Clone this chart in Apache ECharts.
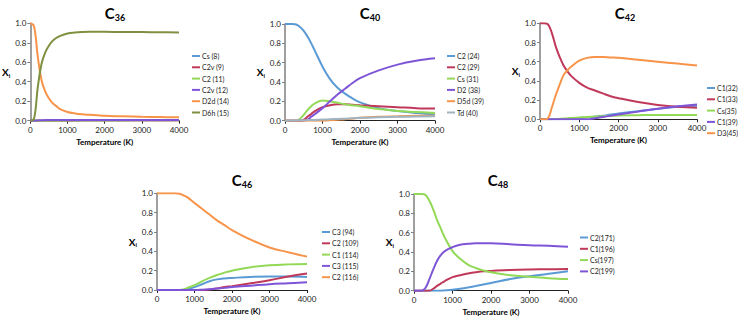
<!DOCTYPE html>
<html>
<head>
<meta charset="utf-8">
<script src="https://cdn.jsdelivr.net/npm/echarts@6/dist/echarts.min.js"></script>
<style>
  html, body { margin: 0; background: #fff; }
  #chart { width: 738px; height: 318px; }
</style>
</head>
<body>
<div id="chart"></div>
<script>
// temperature grid (K), shared by every panel
const temps = [0, 100, 200, 300, 400, 500, 600, 700, 800, 1000, 1200, 1400, 1600, 1800, 2000, 2500, 3000, 3500, 4000]

// C36
const c36Names = ['Cs (8)', 'C2v (9)', 'C2 (11)', 'C2v (12)', 'D2d (14)', 'D6h (15)']
const c36Values = [
  [0, 0, 0, 0, 0, 0, 0, 0, 0, 0, 0, 0.001, 0.001, 0.002, 0.002, 0.003, 0.004, 0.005, 0.006],
  [0, 0, 0, 0, 0, 0, 0, 0, 0, 0, 0.001, 0.001, 0.001, 0.002, 0.002, 0.002, 0.003, 0.003, 0.003],
  [0, 0, 0, 0, 0, 0, 0, 0, 0, 0.001, 0.002, 0.002, 0.002, 0.003, 0.003, 0.003, 0.004, 0.004, 0.004],
  [0, 0, 0.002, 0.005, 0.006, 0.007, 0.007, 0.007, 0.008, 0.008, 0.008, 0.008, 0.008, 0.008, 0.008, 0.008, 0.008, 0.008, 0.008],
  [1.0, 0.97, 0.66, 0.42, 0.3, 0.23, 0.18, 0.15, 0.12, 0.09, 0.075, 0.065, 0.06, 0.055, 0.05, 0.045, 0.04, 0.037, 0.035],
  [0, 0.02, 0.34, 0.58, 0.7, 0.77, 0.82, 0.85, 0.87, 0.895, 0.905, 0.91, 0.912, 0.912, 0.912, 0.911, 0.91, 0.908, 0.905],
]

// C40
const c40Names = ['C2 (24)', 'C2 (29)', 'Cs (31)', 'D2 (38)', 'D5d (39)', 'Td (40)']
const c40Values = [
  [1, 1, 1, 0.995, 0.97, 0.93, 0.87, 0.8, 0.72, 0.56, 0.43, 0.34, 0.28, 0.23, 0.19, 0.13, 0.1, 0.08, 0.065],
  [0, 0, 0, 0, 0, 0.01, 0.04, 0.07, 0.1, 0.14, 0.16, 0.17, 0.17, 0.165, 0.16, 0.15, 0.14, 0.13, 0.125],
  [0, 0, 0, 0, 0.02, 0.06, 0.11, 0.15, 0.18, 0.21, 0.2, 0.185, 0.17, 0.16, 0.15, 0.12, 0.1, 0.09, 0.08],
  [0, 0, 0, 0, 0, 0, 0.01, 0.04, 0.07, 0.13, 0.2, 0.27, 0.33, 0.39, 0.44, 0.52, 0.58, 0.62, 0.645],
  [0, 0, 0, 0, 0, 0, 0, 0, 0, 0, 0.005, 0.01, 0.015, 0.022, 0.03, 0.04, 0.045, 0.05, 0.052],
  [0, 0.001, 0.002, 0.003, 0.004, 0.005, 0.006, 0.007, 0.008, 0.012, 0.015, 0.018, 0.021, 0.025, 0.03, 0.035, 0.04, 0.043, 0.045],
]

// C42
const c42Names = ['C1(32)', 'C1(33)', 'Cs(35)', 'C1(39)', 'D3(45)']
const c42Values = [
  [0, 0, 0, 0, 0, 0, 0, 0.001, 0.003, 0.01, 0.02, 0.028, 0.036, 0.05, 0.06, 0.085, 0.11, 0.13, 0.14],
  [1, 1, 0.99, 0.9, 0.76, 0.65, 0.56, 0.5, 0.45, 0.38, 0.33, 0.3, 0.27, 0.24, 0.22, 0.18, 0.15, 0.13, 0.12],
  [0, 0, 0, 0, 0.002, 0.005, 0.008, 0.011, 0.014, 0.02, 0.025, 0.028, 0.032, 0.036, 0.04, 0.043, 0.045, 0.045, 0.045],
  [0, 0, 0, 0, 0, 0, 0, 0, 0, 0, 0, 0.01, 0.024, 0.037, 0.05, 0.08, 0.11, 0.135, 0.155],
  [0, 0, 0.01, 0.12, 0.25, 0.36, 0.46, 0.51, 0.55, 0.61, 0.64, 0.65, 0.65, 0.645, 0.64, 0.62, 0.6, 0.58, 0.56],
]

// C46
const c46Names = ['C3 (94)', 'C2 (109)', 'C1 (114)', 'C3 (115)', 'C2 (116)']
const c46Values = [
  [0, 0, 0, 0, 0, 0, 0, 0, 0.01, 0.03, 0.06, 0.09, 0.11, 0.12, 0.125, 0.135, 0.14, 0.14, 0.135],
  [0, 0, 0, 0, 0, 0, 0, 0, 0, 0, 0, 0.005, 0.015, 0.03, 0.04, 0.07, 0.1, 0.14, 0.17],
  [0, 0, 0, 0, 0, 0, 0, 0.005, 0.02, 0.05, 0.09, 0.125, 0.155, 0.18, 0.2, 0.235, 0.255, 0.265, 0.27],
  [0, 0, 0, 0, 0, 0, 0, 0, 0, 0, 0.003, 0.008, 0.015, 0.022, 0.03, 0.045, 0.06, 0.07, 0.08],
  [1, 1, 1, 1, 1, 1, 0.995, 0.98, 0.96, 0.9, 0.84, 0.78, 0.72, 0.67, 0.62, 0.52, 0.44, 0.39, 0.345],
]

// C48
const c48Names = ['C2(171)', 'C1(196)', 'Cs(197)', 'C2(199)']
const c48Values = [
  [0, 0, 0, 0, 0, 0, 0, 0, 0.003, 0.01, 0.02, 0.033, 0.048, 0.064, 0.08, 0.12, 0.15, 0.175, 0.2],
  [0, 0, 0, 0, 0, 0.02, 0.05, 0.075, 0.1, 0.14, 0.16, 0.178, 0.19, 0.2, 0.205, 0.215, 0.22, 0.222, 0.225],
  [1, 1, 1, 0.99, 0.93, 0.84, 0.73, 0.64, 0.55, 0.41, 0.33, 0.27, 0.235, 0.21, 0.19, 0.16, 0.145, 0.13, 0.12],
  [0, 0, 0, 0.03, 0.12, 0.22, 0.31, 0.37, 0.41, 0.45, 0.475, 0.485, 0.49, 0.49, 0.49, 0.48, 0.47, 0.465, 0.455],
]

const BLUE = '#5b9bd5', RED = '#c0395a', GREEN = '#92d957', PURPLE = '#7f55d8'
const ORANGE = '#f7944a', OLIVE = '#7f9140', GRAY = '#9fb4c0'
const FONT = 'Lato, "Open Sans", sans-serif'

const panels = [
  { sub: '36', names: c36Names, values: c36Values, colors: [BLUE, RED, GREEN, PURPLE, ORANGE, OLIVE],
    grid: { left: 30, top: 23.3, width: 149, height: 97.4 }, legend: { left: 192, top: 51 }, title: { x: 115, y: 4 } },
  { sub: '40', names: c40Names, values: c40Values, colors: [BLUE, RED, GREEN, PURPLE, ORANGE, GRAY],
    grid: { left: 285, top: 24, width: 150, height: 96.7 }, legend: { left: 447, top: 51 }, title: { x: 370, y: 4 } },
  { sub: '42', names: c42Names, values: c42Values, colors: [BLUE, RED, GREEN, PURPLE, ORANGE],
    grid: { left: 540, top: 23.3, width: 157, height: 96 }, legend: { left: 707, top: 83 }, title: { x: 625, y: 4 } },
  { sub: '46', names: c46Names, values: c46Values, colors: [BLUE, RED, GREEN, PURPLE, ORANGE],
    grid: { left: 157, top: 193.3, width: 150, height: 96.7 }, legend: { left: 322, top: 227 }, title: { x: 242, y: 171 } },
  { sub: '48', names: c48Names, values: c48Values, colors: [BLUE, RED, GREEN, PURPLE],
    grid: { left: 414, top: 194, width: 154, height: 96.7 }, legend: { left: 580, top: 232.5 }, title: { x: 498, y: 171 } },
]

const chart = echarts.init(document.getElementById('chart'), null, { renderer: 'svg' })

const option = {
  animation: false,
  backgroundColor: '#fff',
  textStyle: { fontFamily: FONT },
  title: [], grid: [], xAxis: [], yAxis: [], legend: [], series: [],
}

panels.forEach((p, i) => {
  option.title.push({
    text: 'C{s|' + p.sub + '}',
    left: p.title.x, top: p.title.y, textAlign: 'center', padding: 0,
    textStyle: {
      fontFamily: FONT, fontSize: 15, fontWeight: 'bold', color: '#000',
      rich: { s: { fontFamily: FONT, fontSize: 9, fontWeight: 'bold', color: '#000', padding: [9, 0, 0, 0] } },
    },
  })
  option.grid.push({ ...p.grid, containLabel: false })
  option.xAxis.push({
    gridIndex: i, type: 'value', min: 0, max: 4000, interval: 1000,
    name: 'Temperature (K)', nameLocation: 'middle', nameGap: 17,
    nameTextStyle: { fontFamily: FONT, fontSize: 8, fontWeight: 'bold', color: '#000' },
    axisLine: { lineStyle: { color: '#222', width: 1 } },
    axisTick: { show: true, length: 3, lineStyle: { color: '#222' } },
    axisLabel: { fontFamily: FONT, fontSize: 8, color: '#222', margin: 5, formatter: v => String(v) },
    splitLine: { show: false },
  })
  option.yAxis.push({
    gridIndex: i, type: 'value', min: 0, max: 1, interval: 0.2,
    name: 'X{i|i}', nameLocation: 'middle', nameRotate: 0, nameGap: 20,
    nameTextStyle: { fontFamily: FONT, fontSize: 10, fontWeight: 'bold', color: '#000',
      rich: { i: { fontFamily: FONT, fontSize: 6, fontWeight: 'bold', padding: [6, 0, 0, 0] } } },
    axisLine: { show: true, lineStyle: { color: '#7f7f7f', width: 1.5 } },
    axisTick: { show: true, length: 3, lineStyle: { color: '#7f7f7f' } },
    axisLabel: { fontFamily: FONT, fontSize: 8, color: '#222', margin: 4, formatter: v => v.toFixed(1) },
    splitLine: { show: false },
  })
  option.legend.push({
    data: p.names, orient: 'vertical', left: p.legend.left, top: p.legend.top,
    icon: 'rect', itemWidth: 8, itemHeight: 2, itemGap: 1.3, padding: 0,
    textStyle: { fontFamily: FONT, fontSize: 7, color: '#222', lineHeight: 10, padding: [0, 0, 0, -3] },
  })
  p.names.forEach((name, k) => {
    option.series.push({
      name, type: 'line', xAxisIndex: i, yAxisIndex: i,
      data: temps.map((t, j) => [t, p.values[k][j]]),
      smooth: 0.4, showSymbol: false, symbol: 'none',
      lineStyle: { color: p.colors[k], width: 2 },
      itemStyle: { color: p.colors[k] },
    })
  })
})

chart.setOption(option)
</script>
</body>
</html>
